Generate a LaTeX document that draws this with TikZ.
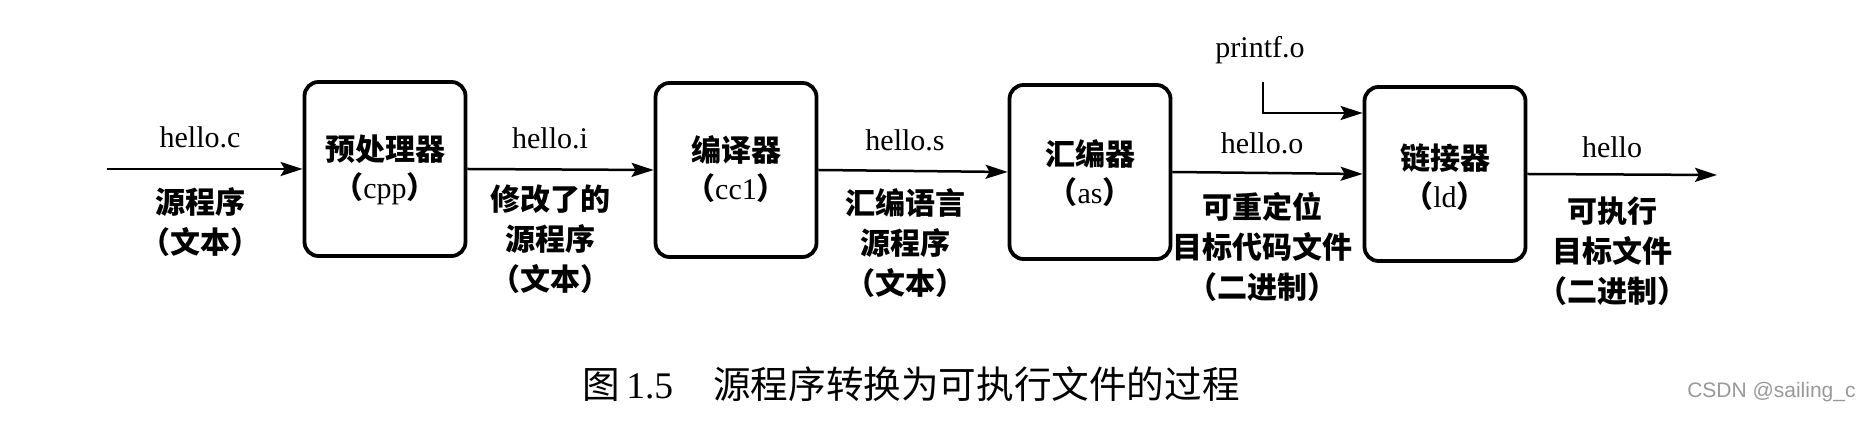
\documentclass[tikz,border=0pt]{standalone}
\usepackage{fontspec}
\setmainfont{Liberation Serif}
\newfontfamily\cjk{Noto Sans CJK SC}
\newfontfamily\wmfont{Liberation Sans}
\usetikzlibrary{arrows.meta,calc}
\newcommand\zhs[1]{{\cjk\bfseries #1}}
\newcommand\zhc[1]{{\cjk #1}}
\begin{document}
\begin{tikzpicture}[x=0.5pt,y=-0.5pt,
  proc/.style={draw, line width=1.9pt, rounded corners=7pt, minimum width=80.5pt, minimum height=87pt, inner sep=0pt},
  boxtxt/.style={align=center, font=\fontsize{15}{19}\selectfont, inner sep=0pt},
  lbl/.style={align=center, font=\fontsize{15}{20}\selectfont, inner sep=0pt},
  flow/.style={line width=1.25pt, -{Stealth[length=11pt,width=7pt,inset=2pt]}},
]
\useasboundingbox (0,0) rectangle (1862,431);
\fill[white] (0,0) rectangle (1862,431);

% boxes
\node[proc] (b1) at (385,169) {};
\node[proc] (b2) at (736,170) {};
\node[proc] (b3) at (1090,172) {};
\node[proc] (b4) at (1445,174) {};

\node[boxtxt] (t1) at (385,170) {\zhs{预处理器}\\\zhs{（}cpp\zhs{）}};
\node[boxtxt] (t2) at (736,169) {\zhs{编译器}\\\zhs{（}cc1\zhs{）}};
\node[boxtxt] (t3) at (1090,173) {\zhs{汇编器}\\\zhs{（}as\zhs{）}};
\node[boxtxt] (t4) at (1445,177) {\zhs{链接器}\\\zhs{（}ld\zhs{）}};

% connectors
\coordinate (in) at (107,169);
\coordinate (out) at (1717,175);
\coordinate (pftop) at (1263,82);
\draw[flow] (in) -- (b1.west);
\draw[flow] (b1.east) -- (b2.west);
\draw[flow] (b2.east) -- (b3.west);
\draw[flow] (b3.east) -- (b4.west);
\draw[flow] (b4.east) -- (out);
\draw[flow] (pftop) |- ([yshift=30.5pt]b4.west);

% labels above
\node[lbl] (lc) at (200,137) {hello.c};
\node[lbl] (li) at (550,138) {hello.i};
\node[lbl] (ls) at (905,140) {hello.s};
\node[lbl] (lo) at (1262,143) {hello.o};
\node[lbl] (lh) at (1612,147) {hello};
\node[lbl] (lp) at (1260,50) {printf.o};

% labels below
\node[lbl] (dc) at (200,222) {\zhs{源程序}\\\zhs{（文本）}};
\node[lbl] (di) at (550,239) {\zhs{修改了的}\\\zhs{源程序}\\\zhs{（文本）}};
\node[lbl] (ds) at (905,243) {\zhs{汇编语言}\\\zhs{源程序}\\\zhs{（文本）}};
\node[lbl] (do) at (1262,247) {\zhs{可重定位}\\\zhs{目标代码文件}\\\zhs{（二进制）}};
\node[lbl] (dh) at (1612,251) {\zhs{可执行}\\\zhs{目标文件}\\\zhs{（二进制）}};

% caption
\node[anchor=west, inner sep=0pt, font=\fontsize{18.8}{22}\selectfont] (cap) at (582,384)
  {\zhc{图}\,1.5\hspace{20pt}\zhc{源程序转换为可执行文件的过程}};
\node[anchor=east, inner sep=0pt, text=black!40, font=\wmfont\fontsize{10.5}{12}\selectfont] (wm) at (1856,392) {CSDN @sailing\_c};
\end{tikzpicture}
\end{document}
